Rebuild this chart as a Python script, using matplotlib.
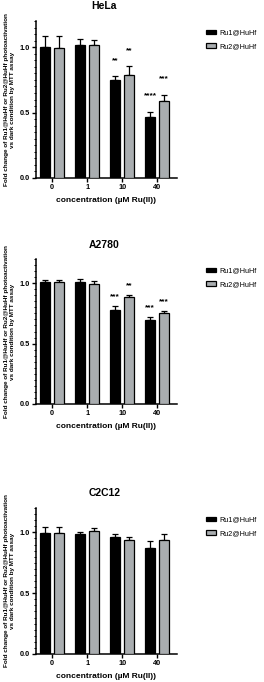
import numpy as np
import matplotlib
matplotlib.use('Agg')
import matplotlib.pyplot as plt
from matplotlib.ticker import MultipleLocator

plt.rcParams['font.family'] = ['Liberation Sans', 'DejaVu Sans']
plt.rcParams['font.weight'] = 'bold'

concentrations = ['0', '1', '10', '40']
panels = ['HeLa', 'A2780', 'C2C12']

# mean values and upper error (SD) for each cell line
ru1_mean = {'HeLa': [1.0, 1.013, 0.749, 0.469],
            'A2780': [1.008, 1.008, 0.779, 0.699],
            'C2C12': [0.997, 0.983, 0.959, 0.868]}
ru1_err = {'HeLa': [0.085, 0.051, 0.028, 0.039],
           'A2780': [0.022, 0.025, 0.031, 0.019],
           'C2C12': [0.043, 0.023, 0.024, 0.058]}
ru2_mean = {'HeLa': [0.995, 1.015, 0.787, 0.585],
            'A2780': [1.008, 0.994, 0.889, 0.757],
            'C2C12': [0.997, 1.011, 0.934, 0.939]}
ru2_err = {'HeLa': [0.09, 0.041, 0.067, 0.051],
           'A2780': [0.022, 0.025, 0.011, 0.011],
           'C2C12': [0.043, 0.025, 0.03, 0.047]}
ru1_stars = {'HeLa': ['', '', '**', '****'],
             'A2780': ['', '', '***', '***'],
             'C2C12': ['', '', '', '']}
ru2_stars = {'HeLa': ['', '', '**', '***'],
             'A2780': ['', '', '**', '***'],
             'C2C12': ['', '', '', '']}

W, H = 264, 682
fig = plt.figure(figsize=(W / 100, H / 100), dpi=100)

# axes boxes in pixels: (left, right, top, bottom), y measured from top
boxes = [(36, 177, 21, 178), (36, 177, 259, 404), (36, 177, 508, 654)]
title_y = [6, 245, 493]
star_gap = [9, 4, 4]   # points above error bar top

x = np.arange(len(concentrations))
off = 0.2
bw = 0.27
grey = '#a9adb0'

for name, (l, r, t, b), ty, gap in zip(panels, boxes, title_y, star_gap):
    ax = fig.add_axes([l / W, 1 - b / H, (r - l) / W, (b - t) / H])
    m1 = np.array(ru1_mean[name])
    m2 = np.array(ru2_mean[name])
    e1 = np.array(ru1_err[name])
    e2 = np.array(ru2_err[name])
    ax.bar(x - off, m1, bw, color='black', edgecolor='black', linewidth=0.9,
           label='Ru1@HuHf', zorder=3)
    ax.bar(x + off, m2, bw, color=grey, edgecolor='black', linewidth=0.9,
           label='Ru2@HuHf', zorder=3)
    ax.errorbar(x - off, m1, yerr=[np.zeros_like(e1), e1], fmt='none',
                ecolor='black', elinewidth=0.9, capsize=2, capthick=0.9, zorder=2)
    ax.errorbar(x + off, m2, yerr=[np.zeros_like(e2), e2], fmt='none',
                ecolor='black', elinewidth=0.9, capsize=2, capthick=0.9, zorder=2)
    for i in range(len(x)):
        if ru1_stars[name][i]:
            ax.annotate(ru1_stars[name][i], (x[i] - off, m1[i] + e1[i]),
                        xytext=(0, gap), textcoords='offset points',
                        ha='center', va='bottom', fontsize=6)
        if ru2_stars[name][i]:
            ax.annotate(ru2_stars[name][i], (x[i] + off, m2[i] + e2[i]),
                        xytext=(0, gap), textcoords='offset points',
                        ha='center', va='bottom', fontsize=6)

    ax.set_ylim(0, 1.2)
    ax.set_xlim(-0.46, 3.57)
    ax.set_xticks(x)
    ax.set_xticklabels(concentrations)
    ax.yaxis.set_major_locator(MultipleLocator(0.5))
    ax.yaxis.set_minor_locator(MultipleLocator(0.05))
    ax.yaxis.set_major_formatter(matplotlib.ticker.FormatStrFormatter('%.1f'))
    for s in ['top', 'right']:
        ax.spines[s].set_visible(False)
    for s in ['left', 'bottom']:
        ax.spines[s].set_linewidth(1.1)
    ax.tick_params(axis='both', which='major', labelsize=5.3, width=1.0, length=3, pad=1.5)
    ax.tick_params(axis='y', which='minor', width=0.7, length=1.8)
    ax.set_xlabel('concentration (µM Ru(II))', fontsize=6, labelpad=4, fontweight='bold')
    ax.set_ylabel('Fold change of Ru1@HuHf or Ru2@HuHf photoactivation\n'
                  'vs dark condition by MTT assay', fontsize=4.6, labelpad=3,
                  fontweight='bold', linespacing=1.25)
    fig.text(((l + r) / 2 - 2) / W, 1 - ty / H, name, ha='center', va='center',
             fontsize=7.5, fontweight='bold')
    ax.legend(loc='upper left', bbox_to_anchor=(199 / W, 1 - (t + 2) / H),
              bbox_transform=fig.transFigure, frameon=False,
              handlelength=1.4, handleheight=0.6, handletextpad=0.5,
              labelspacing=0.9, prop={'size': 5.2, 'weight': 'normal'})

fig.savefig('out.png', dpi=100)
